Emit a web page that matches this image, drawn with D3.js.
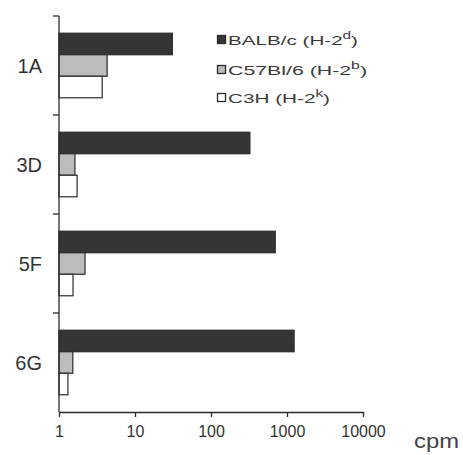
<!DOCTYPE html>
<html>
<head>
<meta charset="utf-8">
<script src="https://cdn.jsdelivr.net/npm/d3@7/dist/d3.min.js"></script>
<style>
  html, body { margin: 0; padding: 0; background: #fff; }
  svg { display: block; font-family: "Liberation Sans", Arial, sans-serif; }
</style>
</head>
<body>
<svg id="chart" width="463" height="455"></svg>
<script>
// Clones and the proliferation (cpm) they give with each mouse strain
const clones = ["1A", "3D", "5F", "6G"];
const strains = ["BALB/c", "C57Bl/6", "C3H"];
const haplotypes = ["d", "b", "k"];
const balbc = [31, 325, 700, 1240];
const c57bl6 = [4.3, 1.62, 2.2, 1.52];
const c3h = [3.7, 1.73, 1.53, 1.31];
const xTicks = [1, 10, 100, 1000, 10000];
const xUnit = "cpm";

const seriesValues = [balbc, c57bl6, c3h];
const fills = ["#353535", "#bcbcbc", "#ffffff"];
const ink = "#2b2b2b";

const svg = d3.select("#chart");

const x = d3.scaleLog().domain([1, 10000]).range([59, 363]);
const y = d3.scaleBand().domain(clones).range([16, 412]).padding(0);
const sub = d3.scaleBand().domain(strains).range([0, y.bandwidth()])
  .paddingInner(0).paddingOuter(0.8);

// bars
clones.forEach((c, i) => {
  strains.forEach((s, j) => {
    const v = seriesValues[j][i];
    svg.append("rect")
      .attr("x", x(1))
      .attr("y", y(c) + sub(s))
      .attr("width", x(v) - x(1))
      .attr("height", sub.bandwidth())
      .attr("fill", fills[j])
      .attr("stroke", ink)
      .attr("stroke-width", 1.2);
  });
});

// x axis
const xAxis = d3.axisBottom(x).tickValues(xTicks).tickFormat(d3.format("d"))
  .tickSize(5).tickSizeOuter(0);
const gx = svg.append("g").attr("transform", "translate(0,412)").call(xAxis);
gx.select(".domain").attr("stroke", ink).attr("stroke-width", 1.3);
gx.selectAll(".tick line").attr("stroke", ink).attr("stroke-width", 1.3);
gx.selectAll(".tick text")
  .attr("y", 20).attr("dy", "0.32em")
  .attr("font-size", 16).attr("fill", "#333")
  .attr("font-family", "'Liberation Sans', Arial, sans-serif");

svg.append("text")
  .attr("x", 414).attr("y", 448)
  .attr("font-size", 21).attr("fill", "#444")
  .attr("textLength", 45).attr("lengthAdjust", "spacingAndGlyphs")
  .text(xUnit);

// y axis: line with separators between clone groups
const bounds = clones.map(c => y(c));
svg.append("line")
  .attr("x1", x(1)).attr("x2", x(1))
  .attr("y1", y.range()[0]).attr("y2", y.range()[1])
  .attr("stroke", ink).attr("stroke-width", 1.3);
svg.selectAll(".ytick").data(bounds).join("line")
  .attr("x1", x(1) - 6).attr("x2", x(1))
  .attr("y1", d => d).attr("y2", d => d)
  .attr("stroke", ink).attr("stroke-width", 1.3);

svg.selectAll(".cat").data(clones).join("text")
  .attr("x", 42)
  .attr("y", d => y(d) + y.bandwidth() / 2)
  .attr("dy", "0.36em")
  .attr("text-anchor", "end")
  .attr("font-size", 20)
  .attr("fill", "#333")
  .text(d => d);

// legend
const legendRows = [40, 70, 98];
const legendWidths = [130, 139, 102];
strains.forEach((s, j) => {
  const g = svg.append("g");
  g.append("rect")
    .attr("x", 217.5).attr("y", legendRows[j] - 4.5)
    .attr("width", 8).attr("height", 8)
    .attr("fill", fills[j]).attr("stroke", ink).attr("stroke-width", 1.3);
  const t = g.append("text")
    .attr("x", 228).attr("y", legendRows[j] + 5)
    .attr("font-size", 13.5).attr("fill", "#3a3a3a")
    .attr("textLength", legendWidths[j]).attr("lengthAdjust", "spacingAndGlyphs");
  t.append("tspan").text(s + " (H-2");
  t.append("tspan").attr("font-size", 10).attr("dy", -6).text(haplotypes[j]);
  t.append("tspan").attr("dy", 6).text(")");
});
</script>
</body>
</html>
